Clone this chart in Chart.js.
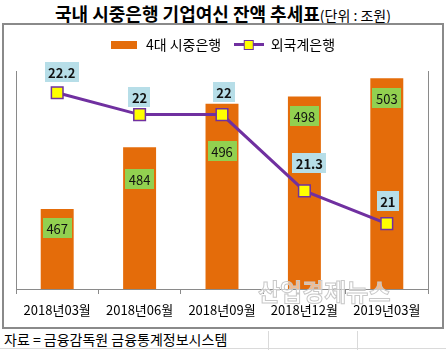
<!DOCTYPE html>
<html>
<head>
<meta charset="utf-8">
<script src="https://cdn.jsdelivr.net/npm/chart.js@4.4.0/dist/chart.umd.min.js"></script>
<style>
  html, body { margin: 0; padding: 0; background: #fff; }
  body { width: 446px; height: 350px; position: relative; overflow: hidden; font-family: "Noto Sans CJK KR", sans-serif; color: #000; }
  #title { position: absolute; left: 0; top: 1px; width: 446px; text-align: center; line-height: 24px; white-space: nowrap; }
  #title b { font-size: 18px; font-weight: bold; }
  #title span { font-size: 14px; }
  #frame { position: absolute; left: 2px; top: 23px; width: 438px; height: 302px; border: 2px solid #8a8a8a; }
  #frame canvas { position: absolute; left: 0; top: 0; }
  #mark { position: absolute; left: 258px; top: 277px; font-size: 24px; font-weight: bold; line-height: 28px; color: rgba(255, 255, 255, 0.55); -webkit-text-stroke: 1px #c8c8c8; white-space: nowrap; }
  #source { position: absolute; left: 4px; top: 330px; font-size: 14px; line-height: 18px; white-space: nowrap; }
  .gl { position: absolute; background: #dadada; }
</style>
</head>
<body>
<div id="title"><b>국내 시중은행 기업여신 잔액 추세표</b><span>(단위 : 조원)</span></div>
<div id="frame"><canvas id="c" width="438" height="302"></canvas></div>
<div id="mark">산업경제뉴스</div>
<div class="gl" style="left:0;top:348px;width:446px;height:1px"></div>
<div class="gl" style="left:268px;top:331px;width:1px;height:19px"></div>
<div class="gl" style="left:357px;top:331px;width:1px;height:19px"></div>
<div id="source">자료 = 금융감독원 금융통계정보시스템</div>
<script>
// 분기별 잔액 (조원)
var categories = ["2018년03월", "2018년06월", "2018년09월", "2018년12월", "2019년03월"];
var bigFourBanks = [467, 484, 496, 498, 503];
var foreignBanks = [22.2, 22, 22, 21.3, 21];
var seriesNames = ["4대 시중은행", "외국계은행"];

var BAR_COLOR = "#E46C0A";
var LINE_COLOR = "#7030A0";
var AXIS_COLOR = "#8a8a8a";
var FONT = "'Noto Sans CJK KR', sans-serif";

function barSwatch() {
  var c = document.createElement("canvas");
  c.width = 26; c.height = 8;
  var g = c.getContext("2d");
  g.fillStyle = BAR_COLOR;
  g.fillRect(0, 0, 26, 8);
  return c;
}

function lineSwatch() {
  var c = document.createElement("canvas");
  c.width = 30; c.height = 11;
  var g = c.getContext("2d");
  g.strokeStyle = LINE_COLOR;
  g.lineWidth = 3;
  g.beginPath();
  g.moveTo(0, 5.5);
  g.lineTo(30, 5.5);
  g.stroke();
  g.fillStyle = "#FFFF00";
  g.fillRect(10.5, 1.5, 9, 9);
  g.lineWidth = 1;
  g.strokeRect(10.5, 1.5, 9, 9);
  return c;
}

// 범례 아래 여백
var legendGap = {
  id: "legendGap",
  beforeInit: function (chart) {
    var fit = chart.legend.fit;
    chart.legend.fit = function () {
      fit.bind(chart.legend)();
      this.height += 9.5;
    };
  }
};

function drawBox(ctx, text, cx, top, fill, bold) {
  ctx.font = (bold ? "bold " : "") + "13px " + FONT;
  var w = ctx.measureText(text).width + 7;
  var h = 20;
  ctx.fillStyle = fill;
  ctx.fillRect(Math.round(cx - w / 2), Math.round(top), Math.round(w), h);
  ctx.fillStyle = "#111";
  ctx.textAlign = "center";
  ctx.textBaseline = "middle";
  ctx.fillText(text, cx, top + h / 2 + 1);
}

var valueBoxes = {
  id: "valueBoxes",
  afterDatasetsDraw: function (chart, args, opts) {
    var ctx = chart.ctx;
    ctx.save();
    chart.getDatasetMeta(0).data.forEach(function (bar, i) {
      drawBox(ctx, String(bigFourBanks[i]), bar.x, bar.y + opts.barDrop[i], "#92D050", false);
    });
    chart.getDatasetMeta(1).data.forEach(function (pt, i) {
      drawBox(ctx, String(foreignBanks[i]), pt.x + opts.lineShift[i], pt.y - opts.lineLift[i] - 20, "#B7DEE8", true);
    });
    ctx.restore();
  }
};

new Chart(document.getElementById("c"), {
  type: "bar",
  data: {
    labels: categories,
    datasets: [
      {
        type: "bar",
        label: seriesNames[0],
        data: bigFourBanks,
        backgroundColor: BAR_COLOR,
        borderWidth: 0,
        barPercentage: 0.4,
        categoryPercentage: 1,
        yAxisID: "y",
        order: 2
      },
      {
        type: "line",
        label: seriesNames[1],
        data: foreignBanks,
        borderColor: LINE_COLOR,
        borderWidth: 3,
        tension: 0,
        pointStyle: "rect",
        pointRadius: 8.2,
        pointBorderWidth: 1.5,
        pointBackgroundColor: "#FFFF00",
        pointBorderColor: LINE_COLOR,
        yAxisID: "y1",
        order: 1
      }
    ]
  },
  options: {
    responsive: false,
    animation: false,
    events: [],
    layout: { padding: { left: 12, right: 14, top: 0, bottom: 0 } },
    plugins: {
      title: { display: false },
      tooltip: { enabled: false },
      legend: {
        position: "top",
        labels: {
          usePointStyle: true,
          pointStyleWidth: 30,
          padding: 12.5,
          color: "#000",
          font: { family: FONT, size: 14 },
          generateLabels: function () {
            return [
              { text: seriesNames[0], pointStyle: barSwatch(), datasetIndex: 0, fontColor: "#000", lineWidth: 0 },
              { text: seriesNames[1], pointStyle: lineSwatch(), datasetIndex: 1, fontColor: "#000", lineWidth: 0 }
            ];
          }
        }
      },
      valueBoxes: {
        barDrop: [9, 22, 37, 10, 10],
        lineShift: [4.5, 0, 2, 5, 1],
        lineLift: [10.5, 8, 13, 17.5, 12.5]
      }
    },
    scales: {
      x: {
        offset: true,
        grid: { display: true, drawOnChartArea: false, drawTicks: true, tickLength: 5, color: AXIS_COLOR, offset: true },
        border: { display: true, color: AXIS_COLOR, width: 1 },
        ticks: { color: "#000", font: { family: FONT, size: 13 }, padding: 8, maxRotation: 0, autoSkip: false },
        afterFit: function (s) { s.height = 38; }
      },
      y: {
        position: "left",
        min: 445,
        max: 505,
        grid: { display: false },
        border: { display: true, color: AXIS_COLOR, width: 1 },
        ticks: { display: false },
        afterFit: function (s) { s.width = 0; }
      },
      y1: {
        position: "right",
        min: 20.4,
        max: 22.4,
        grid: { display: false },
        border: { display: true, color: AXIS_COLOR, width: 1 },
        ticks: { display: false },
        afterFit: function (s) { s.width = 0; }
      }
    }
  },
  plugins: [legendGap, valueBoxes]
});
</script>
</body>
</html>
